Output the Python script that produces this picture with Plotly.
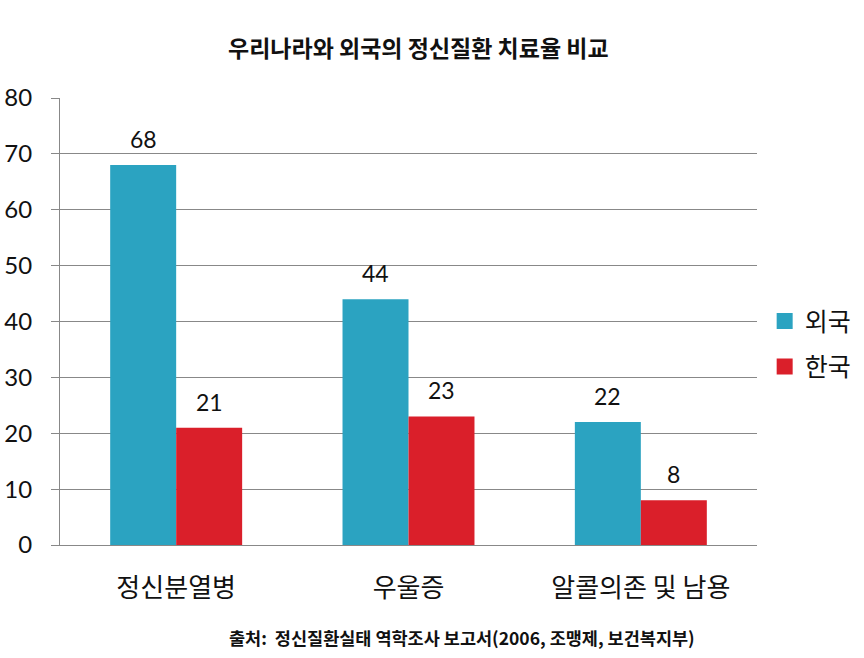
import plotly.graph_objects as go

categories = ["정신분열병", "우울증", "알콜의존 및 남용"]
foreign = [68, 44, 22]
korea = [21, 23, 8]
series_names = ["외국", "한국"]
colors = ["#2BA3C1", "#DA1F2A"]
title = "우리나라와 외국의 정신질환 치료율 비교"
source = "출처:  정신질환실태 역학조사 보고서(2006, 조맹제, 보건복지부)"
yticks = [0, 10, 20, 30, 40, 50, 60, 70, 80]

KR = "Noto Sans CJK KR"
NUM = "Lato, DejaVu Sans"

fig = go.Figure()
for name, vals, col in zip(series_names, [foreign, korea], colors):
    fig.add_trace(go.Bar(x=categories, y=vals, name=name, marker_color=col,
                         marker_line_width=0, legendgroup=name, showlegend=False))
for name, col in zip(series_names, colors):
    fig.add_trace(go.Scatter(x=[None], y=[None], mode="markers", name=name,
                             legendgroup=name,
                             marker=dict(symbol="square", size=17, color=col)))

for vals, shift in [(foreign, -33), (korea, 33)]:
    for c, v in zip(categories, vals):
        fig.add_annotation(x=c, y=v, text=str(v), showarrow=False, xshift=shift,
                           yanchor="bottom", yshift=10,
                           font=dict(family=NUM, size=23, color="#111"))

fig.add_annotation(x=0.515, y=1.0, xref="paper", yref="paper", yanchor="bottom",
                   yshift=32, text="<b>" + title + "</b>", showarrow=False,
                   font=dict(family=KR, size=23, color="#111"))
fig.add_annotation(x=0.577, y=0, xref="paper", yref="paper", yanchor="top",
                   yshift=-78, text="<b>" + source + "</b>", showarrow=False,
                   font=dict(family=KR, size=17.5, color="#111"))

fig.update_layout(
    width=864, height=658,
    margin=dict(l=60, r=107, t=98, b=113, autoexpand=False),
    paper_bgcolor="white", plot_bgcolor="white",
    barmode="group", bargap=0.432, bargroupgap=0,
    showlegend=True,
    legend=dict(x=1.011, y=0.45, xanchor="left", yanchor="middle",
                font=dict(family=KR, size=25, color="#111"),
                tracegroupgap=10, itemsizing="trace", itemwidth=30),
    xaxis=dict(showline=True, linecolor="#888", linewidth=1, ticks="",
               tickfont=dict(family=KR, size=26, color="#111"),
               ticklabelstandoff=20, showgrid=False),
    yaxis=dict(range=[0, 80], tickvals=yticks, showline=True, linecolor="#888",
               linewidth=1, ticks="outside", ticklen=8, tickcolor="#888",
               showgrid=True, gridcolor="#888", gridwidth=1, zeroline=False,
               tickfont=dict(family=NUM, size=24, color="#111"),
               ticklabelstandoff=14),
)

fig.write_html("out.html")
